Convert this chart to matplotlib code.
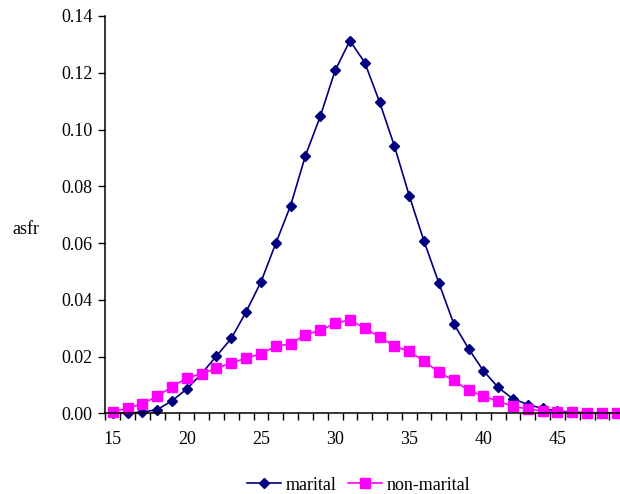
import numpy as np
import matplotlib
matplotlib.use('Agg')
import matplotlib.pyplot as plt

plt.rcParams['font.family'] = ['Liberation Serif', 'DejaVu Serif']

# age groups and age specific fertility rates
ages = list(range(15, 50))
marital = [0.0002, 0.0001, 0.0004, 0.0013, 0.0044, 0.0086, 0.0140, 0.0202, 0.0264, 0.0358,
           0.0463, 0.0599, 0.0732, 0.0908, 0.1046, 0.1208, 0.1313, 0.1236, 0.1097, 0.0942,
           0.0767, 0.0606, 0.0459, 0.0316, 0.0228, 0.0150, 0.0091, 0.0051, 0.0031, 0.0017,
           0.0008, 0.0004, 0.0002, 0.0001, 0.0001]
non_marital = [0.0006, 0.0017, 0.0034, 0.0060, 0.0094, 0.0124, 0.0140, 0.0158, 0.0178, 0.0194,
               0.0210, 0.0236, 0.0245, 0.0277, 0.0292, 0.0317, 0.0329, 0.0300, 0.0269, 0.0237,
               0.0218, 0.0184, 0.0145, 0.0116, 0.0081, 0.0061, 0.0042, 0.0025, 0.0015, 0.0008,
               0.0004, 0.0003, 0.0002, 0.0002, 0.0001]
x_labels = [15, 20, 25, 30, 35, 40, 45]
y_ticks = [0.0, 0.02, 0.04, 0.06, 0.08, 0.10, 0.12, 0.14]

fig = plt.figure(figsize=(6.2, 4.94), dpi=100)
ax = fig.add_axes([105.3 / 620, (494 - 413.3) / 494, (624.2 - 105.3) / 620, (413.3 - 16) / 494])

ax.plot(ages, marital, color='#000080', marker='D', ms=5.2, lw=1.2, label='marital', clip_on=False)
ax.plot(ages, non_marital, color='#FF00FF', marker='s', ms=6.8, lw=1.2, label='non-marital', clip_on=False)

ax.set_xlim(14.5, 49.5)
ax.set_ylim(0, 0.14)

ax.set_xticks(x_labels)
ax.set_xticklabels([str(v) for v in x_labels])
ax.set_xticks(np.arange(14.5, 50, 1), minor=True)
ax.tick_params(axis='x', which='major', length=0, pad=13, labelsize=13)
ax.tick_params(axis='x', which='minor', length=5, direction='out', width=1)

ax.set_yticks(y_ticks)
ax.set_yticklabels(['%.2f' % v for v in y_ticks])
ax.tick_params(axis='y', which='major', length=5, direction='out', width=1, pad=4, labelsize=13)

ax.spines['top'].set_visible(False)
ax.spines['right'].set_visible(False)
ax.spines['left'].set_linewidth(1.1)
ax.spines['bottom'].set_linewidth(1.1)

fig.text(26 / 620, 1 - 229 / 494, 'asfr', fontsize=13, ha='center', va='center')

fig.legend(loc='center', bbox_to_anchor=(358.5 / 620, 1 - 485 / 494), ncol=2, frameon=False,
           fontsize=13, handlelength=1.9, handletextpad=0.25, columnspacing=0.6)

fig.savefig('out.png', dpi=100)
